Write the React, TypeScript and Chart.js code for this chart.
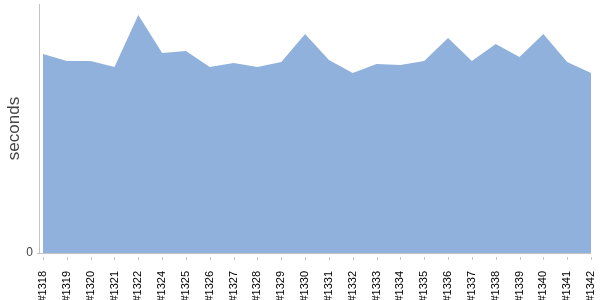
import React, { useEffect, useRef } from "react";
import { Chart, registerables } from "chart.js";

Chart.register(...registerables);

const builds = [
  "#1318", "#1319", "#1320", "#1321", "#1322", "#1324", "#1325", "#1326",
  "#1327", "#1328", "#1329", "#1330", "#1331", "#1332", "#1333", "#1334",
  "#1335", "#1336", "#1337", "#1338", "#1339", "#1340", "#1341", "#1342",
];
const durations = [
  199, 192, 192, 186, 238, 200, 202, 186,
  190, 186, 191, 219, 193, 180, 189, 188,
  192, 215, 192, 209, 196, 219, 191, 180,
];
const yMax = 249;

const axisPlugin = {
  id: "axisLines",
  afterDraw(chart: any) {
    const { ctx, chartArea } = chart;
    const { left, right, top, bottom } = chartArea;
    const xs = chart.scales.x;
    ctx.save();
    ctx.strokeStyle = "#c4c4c4";
    ctx.lineWidth = 1;
    ctx.beginPath();
    ctx.moveTo(left - 3.5, top);
    ctx.lineTo(left - 3.5, bottom + 1);
    ctx.moveTo(left - 6, bottom + 0.5);
    ctx.lineTo(right, bottom + 0.5);
    for (let i = 0; i < xs.ticks.length; i++) {
      const x = Math.round(xs.getPixelForTick(i)) + 0.5;
      ctx.moveTo(x, bottom + 4);
      ctx.lineTo(x, bottom + 7);
    }
    ctx.stroke();
    ctx.restore();
  },
};

export default function App() {
  const ref = useRef<HTMLCanvasElement | null>(null);
  useEffect(() => {
    document.body.style.margin = "0";
    const chart = new Chart(ref.current!, {
      type: "line",
      data: {
        labels: builds,
        datasets: [
          {
            data: durations,
            fill: "origin",
            backgroundColor: "#8fb1db",
            borderColor: "#8fb1db",
            borderWidth: 0,
            pointRadius: 0,
            tension: 0,
          },
        ],
      },
      options: {
        animation: false,
        responsive: false,
        maintainAspectRatio: false,
        layout: { padding: { top: 4, right: 9, left: 0, bottom: 0 } },
        plugins: { legend: { display: false }, tooltip: { enabled: false } },
        scales: {
          x: {
            offset: false,
            grid: { display: false },
            border: { display: false },
            ticks: {
              autoSkip: false,
              minRotation: 90,
              maxRotation: 90,
              padding: 10,
              color: "#000",
              font: { family: "'Liberation Sans', Arial, sans-serif", size: 11 },
            },
            afterFit(scale: any) {
              scale.height = 47;
              scale.paddingLeft = 0;
              scale.paddingRight = 0;
            },
          },
          y: {
            min: 0,
            max: yMax,
            grid: { display: false },
            border: { display: false },
            afterBuildTicks(scale: any) {
              scale.ticks = [{ value: 0 }];
            },
            ticks: {
              padding: 2,
              color: "#444",
              font: { family: "'Liberation Sans', Arial, sans-serif", size: 12 },
              callback: (v: any) => String(v),
            },
            title: {
              display: true,
              text: "seconds",
              color: "#444",
              padding: { top: 4, bottom: 0 },
              font: { family: "'Liberation Sans', Arial, sans-serif", size: 17 },
            },
            afterFit(scale: any) {
              scale.width = 43;
              scale.paddingTop = 0;
              scale.paddingBottom = 0;
            },
          },
        },
      },
      plugins: [axisPlugin],
    });
    return () => chart.destroy();
  }, []);
  return (
    <div style={{ width: 600, height: 300 }}>
      <canvas ref={ref} width={600} height={300} style={{ display: "block" }} />
    </div>
  );
}
